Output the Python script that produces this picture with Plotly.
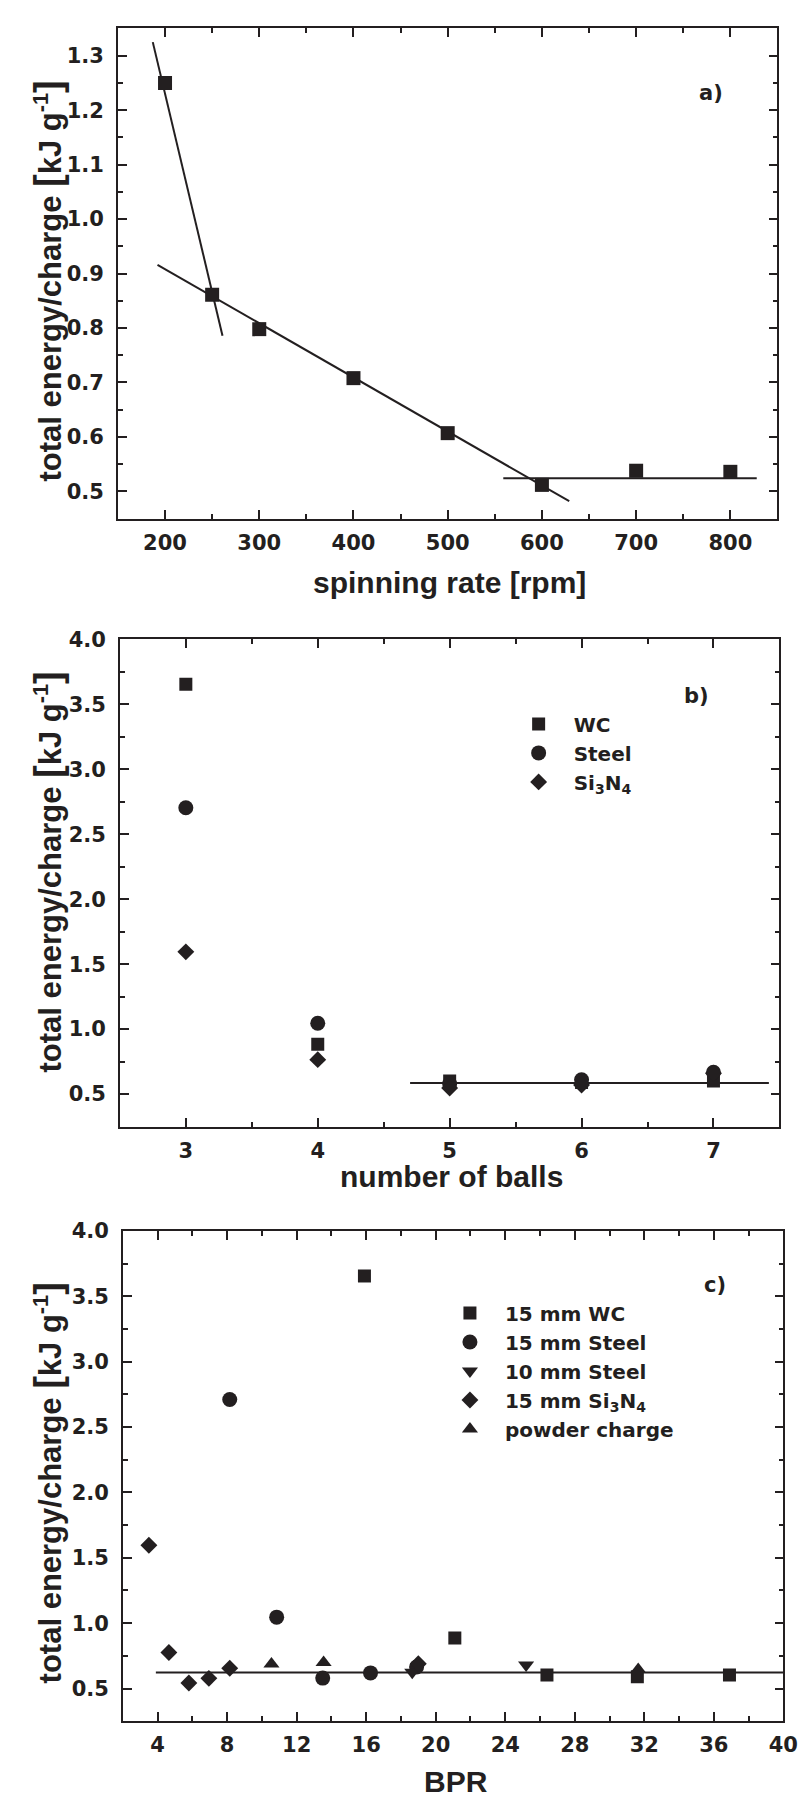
import plotly.graph_objects as go

# ---- panel a: spinning rate ----
rpm = [200, 250, 300, 400, 500, 600, 700, 800]
energy_rpm = [1.25, 0.861, 0.798, 0.708, 0.607, 0.512, 0.538, 0.536]
# fitted lines (end points)
fit1_x, fit1_y = [187, 261], [1.325, 0.786]
fit2_x, fit2_y = [192, 629], [0.916, 0.482]
fit3_x, fit3_y = [559, 828], [0.524, 0.524]

# ---- panel b: number of balls ----
balls = [3, 4, 5, 6, 7]
b_wc = [3.655, 0.883, 0.60, 0.59, 0.60]
b_steel = [2.704, 1.045, 0.58, 0.61, 0.668]
b_si3n4 = [1.595, 0.765, 0.546, 0.57, 0.66]
fitb_x, fitb_y = [4.70, 7.42], [0.585, 0.585]

# ---- panel c: BPR ----
c_wc_x = [15.9, 21.1, 26.4, 31.6, 36.9]
c_wc_y = [3.655, 0.886, 0.604, 0.59, 0.604]
c_steel15_x = [8.15, 10.85, 13.5, 16.25, 18.9]
c_steel15_y = [2.71, 1.046, 0.58, 0.62, 0.665]
c_steel10_x = [18.65, 25.2]
c_steel10_y = [0.625, 0.68]
c_si3n4_x = [3.5, 4.65, 5.8, 6.95, 8.15, 19.0]
c_si3n4_y = [1.596, 0.776, 0.543, 0.578, 0.655, 0.69]
c_powder_x = [10.55, 13.55, 31.65]
c_powder_y = [0.688, 0.70, 0.645]
fitc_x, fitc_y = [3.9, 40], [0.622, 0.622]

INK = "#231f20"
TICKFONT = dict(family="DejaVu Sans", size=21, color=INK, weight="bold")
TITLEFONT = dict(family="Liberation Sans, Arial, sans-serif", size=30, color=INK,
                 weight="bold")
W, H = 809, 1798


def ax(domain, rng, dtick, minor, anchor, standoff, fmt=None, tick0=None):
    d = dict(domain=domain, range=rng, dtick=dtick, anchor=anchor, showline=True,
             linecolor=INK, linewidth=1.6, mirror="allticks", ticks="inside", ticklen=9,
             tickwidth=1.6, tickcolor=INK, showgrid=False, zeroline=False,
             tickfont=TICKFONT, ticklabelstandoff=standoff,
             minor=dict(ticks="inside", ticklen=5, dtick=minor, tickwidth=1.6,
                        tickcolor=INK, showgrid=False))
    if fmt:
        d["tickformat"] = fmt
    if tick0 is not None:
        d["tick0"] = tick0
    return d


def pts(x, y, symbol, size, xa, ya, name=None, legend=None):
    return go.Scatter(x=x, y=y, mode="markers", xaxis=xa, yaxis=ya, name=name,
                      showlegend=name is not None, legend=legend,
                      marker=dict(symbol=symbol, size=size, color=INK))


def line(x, y, xa, ya):
    return go.Scatter(x=x, y=y, mode="lines", xaxis=xa, yaxis=ya, showlegend=False,
                      line=dict(color=INK, width=2))


traces = [
    line(fit1_x, fit1_y, "x", "y"),
    line(fit2_x, fit2_y, "x", "y"),
    line(fit3_x, fit3_y, "x", "y"),
    pts(rpm, energy_rpm, "square", 14, "x", "y"),
    line(fitb_x, fitb_y, "x2", "y2"),
    pts(balls, b_wc, "square", 13, "x2", "y2", "WC", "legend"),
    pts(balls, b_steel, "circle", 15, "x2", "y2", "Steel", "legend"),
    pts(balls, b_si3n4, "diamond", 13, "x2", "y2", "Si<sub>3</sub>N<sub>4</sub>", "legend"),
    line(fitc_x, fitc_y, "x3", "y3"),
    pts(c_wc_x, c_wc_y, "square", 13, "x3", "y3", "15 mm WC", "legend2"),
    pts(c_steel15_x, c_steel15_y, "circle", 15, "x3", "y3", "15 mm Steel", "legend2"),
    pts(c_steel10_x, c_steel10_y, "triangle-down", 14, "x3", "y3", "10 mm Steel", "legend2"),
    pts(c_si3n4_x, c_si3n4_y, "diamond", 13, "x3", "y3",
        "15 mm Si<sub>3</sub>N<sub>4</sub>", "legend2"),
    pts(c_powder_x, c_powder_y, "triangle-up", 14, "x3", "y3", "powder charge", "legend2"),
]

fig = go.Figure(data=traces)

ytitle = ("total energy/charge <span style='font-size:38px'>[</span>kJ g<sup>-1</sup>"
          "<span style='font-size:38px'>]</span>")
yfont = dict(TITLEFONT, size=31)
annots = []
for yc in [1 - 263 / H, 1 - 858 / H, 1 - 1473 / H]:
    annots.append(dict(text=ytitle, x=41 / W, y=yc, xref="paper", yref="paper",
                       textangle=-90, showarrow=False, font=yfont,
                       xanchor="center", yanchor="middle"))
for txt, xc, yc in [("spinning rate [rpm]", 449.5, 566), ("number of balls", 452, 1164),
                    ("BPR", 456, 1773)]:
    annots.append(dict(text=txt, x=xc / W, y=1 - yc / H, xref="paper", yref="paper",
                       showarrow=False, font=TITLEFONT, xanchor="center", yanchor="middle"))
for txt, xc, yc in [("a)", 716.5, 73), ("b)", 702, 681), ("c)", 720, 1273.5)]:
    annots.append(dict(text=txt, x=xc / W, y=1 - yc / H, xref="paper", yref="paper",
                       showarrow=False, font=dict(family="DejaVu Sans", size=21,
                                                  color=INK, weight="bold"),
                       xanchor="center", yanchor="middle"))

legfont = dict(family="DejaVu Sans", size=20, color=INK, weight="bold")
fig.update_layout(
    width=W, height=H, margin=dict(l=0, r=0, t=0, b=0),
    paper_bgcolor="white", plot_bgcolor="white",
    xaxis=ax([112 / W, 784 / W], [150, 850], 100, 50, "y", 4),
    yaxis=ax([1 - 502 / H, 1 - 8 / H], [0.45, 1.351], 0.1, 0.05, "x", 8, ".1f"),
    xaxis2=ax([114 / W, 786 / W], [2.5, 7.5], 1, 0.5, "y2", 4),
    yaxis2=ax([1 - 1114 / H, 1 - 623.6 / H], [0.25, 4.0], 0.5, 0.25, "x2", 8, ".1f"),
    xaxis3=ax([117 / W, 790 / W], [2, 40], 4, 2, "y3", 4, tick0=0),
    yaxis3=ax([1 - 1712.7 / H, 1 - 1219 / H], [0.25, 4.0], 0.5, 0.25, "x3", 8, ".1f"),
    legend=dict(x=505 / W, y=1 - 689 / H, xanchor="left", yanchor="top",
                bgcolor="rgba(0,0,0,0)", font=legfont, itemwidth=60),
    legend2=dict(x=435 / W, y=1 - 1282 / H, xanchor="left", yanchor="top",
                 bgcolor="rgba(0,0,0,0)", font=legfont, itemwidth=60),
    annotations=annots,
)

fig.write_html("out.html")
